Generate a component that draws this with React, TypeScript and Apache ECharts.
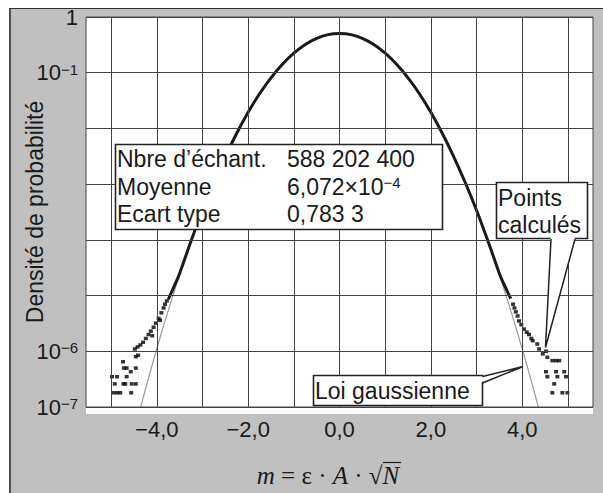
import React, { useEffect, useRef } from 'react';
import * as echarts from 'echarts';

// Gaussian law (grey line)
const gaussX = [-4.5, -4.25, -4, -3.75, -3.5, -3.25, -3, -2.75, -2.5, -2.25, -2, -1.75, -1.5, -1.25, -1, -0.75, -0.5, -0.25, 0, 0.25, 0.5, 0.75, 1, 1.25, 1.5, 1.75, 2, 2.25, 2.5, 2.75, 3, 3.25, 3.5, 3.75, 4, 4.25, 4.5];
const gaussY = [3.5e-8, 2.06e-7, 1.11e-6, 5.37e-6, 2.35e-5, 9.31e-5, 3.33e-4, 1.073e-3, 3.125e-3, 8.23e-3, 0.01955, 0.042, 0.0814, 0.1425, 0.225, 0.322, 0.415, 0.484, 0.505, 0.484, 0.415, 0.322, 0.225, 0.1425, 0.0814, 0.042, 0.01955, 8.23e-3, 3.125e-3, 1.073e-3, 3.33e-4, 9.31e-5, 2.35e-5, 5.37e-6, 1.11e-6, 2.06e-7, 3.5e-8];

// Computed points: dense central part (thick line)
const calcX = [-3.75, -3.6, -3.5, -3.25, -3, -2.75, -2.5, -2.25, -2, -1.75, -1.5, -1.25, -1, -0.75, -0.5, -0.25, 0, 0.25, 0.5, 0.75, 1, 1.25, 1.5, 1.75, 2, 2.25, 2.5, 2.75, 3, 3.25, 3.5, 3.6, 3.75];
const calcY = [8.5e-6, 1.6e-5, 2.5e-5, 9.5e-5, 3.4e-4, 1.08e-3, 3.13e-3, 8.2e-3, 0.0195, 0.042, 0.081, 0.142, 0.224, 0.321, 0.414, 0.483, 0.505, 0.483, 0.414, 0.321, 0.224, 0.142, 0.081, 0.042, 0.0195, 8.2e-3, 3.13e-3, 1.08e-3, 3.4e-4, 9.5e-5, 2.5e-5, 1.6e-5, 8.8e-6];

// Computed points: scattered tails
const leftTailX = [-3.78, -3.82, -3.85, -3.9, -3.96, -4.02, -4.07, -4.13, -4.18, -4.24, -4.3, -4.36, -4.42, -4.48, -3.93, -4.1, -4.46, -4.41, -4.74, -4.72, -4.66, -4.46, -4.57, -4.98, -4.87, -4.66, -4.92, -4.73, -4.69, -4.55, -4.46, -4.95, -4.87, -4.8, -4.56];
const leftTailY = [8.0e-6, 7.0e-6, 6.0e-6, 4.9e-6, 3.9e-6, 3.2e-6, 2.7e-6, 2.3e-6, 2.0e-6, 1.7e-6, 1.45e-6, 1.3e-6, 1.2e-6, 1.1e-6, 3.6e-6, 1.9e-6, 8.0e-7, 8.5e-7, 6.5e-7, 5.0e-7, 5.0e-7, 5.0e-7, 4.3e-7, 3.5e-7, 3.5e-7, 3.5e-7, 2.6e-7, 2.6e-7, 2.6e-7, 2.6e-7, 2.6e-7, 1.8e-7, 1.8e-7, 1.8e-7, 1.8e-7];
const rightTailX = [3.8, 3.83, 3.86, 3.9, 3.93, 3.98, 4.04, 4.1, 4.15, 4.2, 4.23, 4.33, 4.37, 4.52, 4.45, 4.55, 4.66, 4.74, 4.81, 4.52, 4.74, 4.92, 4.55, 4.77, 4.96, 4.7, 4.66, 4.88, 4.99];
const rightTailY = [7.0e-6, 6.0e-6, 5.1e-6, 4.3e-6, 3.5e-6, 3.0e-6, 2.5e-6, 2.2e-6, 2.0e-6, 1.7e-6, 1.55e-6, 1.35e-6, 1.1e-6, 1.0e-6, 9.0e-7, 7.8e-7, 6.8e-7, 6.8e-7, 6.8e-7, 4.3e-7, 4.3e-7, 4.3e-7, 3.5e-7, 3.5e-7, 3.5e-7, 2.6e-7, 1.8e-7, 1.8e-7, 1.8e-7];

// Axes
const xGridValues = [-5, -4, -3, -2, -1, 0, 1, 2, 3, 4, 5];
const xTickLabels = [-4, -2, 0, 2, 4];
const yLabelExponents = [0, -1, -6, -7];

// Annotation texts
const statLabels = ['Nbre d’échant.', 'Moyenne', 'Ecart type'];
const statValues = ['588 202 400', '{a|6,072×10}{s|−4}', '0,783 3'];

const SANS = 'Liberation Sans, Arial, Helvetica, sans-serif';
const SERIF = 'Liberation Serif, Times New Roman, serif';
const INK = '#1a1a1a';
const FRAME = '#c0c0c0';

// layout (px)
const W = 603;
const H = 493;
const PLOT = { left: 86, top: 17, right: 593, bottom: 414 };
const FRAME_L = 9;
const FRAME_T = 8;

function zip(xs: number[], ys: number[]) {
  return xs.map((x, i) => [x, ys[i]]);
}

export default function App() {
  const ref = useRef<HTMLDivElement>(null);
  useEffect(() => {
    if (!ref.current) return;
    const chart = echarts.init(ref.current, null, { renderer: 'svg' });
    const annText = { fontFamily: SANS, fontSize: 23, fill: INK, verticalAlign: 'middle', align: 'left' };
    const rowY = [159, 186.5, 213.5];
    const strip = (x: number, y: number, w: number, h: number) => ({
      type: 'rect', z: 50, silent: true, shape: { x, y, width: w, height: h }, style: { fill: FRAME },
    });
    const graphic: any[] = [
      // grey frame around the plot area
      strip(FRAME_L, FRAME_T, W - FRAME_L, PLOT.top - FRAME_T),
      strip(FRAME_L, PLOT.top, PLOT.left - FRAME_L, PLOT.bottom - PLOT.top),
      strip(PLOT.right, PLOT.top, W - PLOT.right, PLOT.bottom - PLOT.top),
      strip(FRAME_L, PLOT.bottom, W - FRAME_L, H - PLOT.bottom),
      { type: 'line', z: 201, silent: true, shape: { x1: FRAME_L, y1: FRAME_T + 0.5, x2: W, y2: FRAME_T + 0.5 }, style: { stroke: '#333', lineWidth: 1 } },
      { type: 'line', z: 201, silent: true, shape: { x1: FRAME_L + 1, y1: FRAME_T, x2: FRAME_L + 1, y2: H }, style: { stroke: '#333', lineWidth: 1.6 } },
      // statistics box
      { type: 'rect', z: 100, shape: { x: 115.5, y: 144.5, width: 327, height: 85 }, style: { fill: '#fff', stroke: '#222', lineWidth: 1.6 } },
      ...statLabels.map((t, i) => ({ type: 'text', z: 103, x: 117, y: rowY[i], style: { ...annText, text: t } })),
      ...statValues.map((t, i) => ({
        type: 'text', z: 103, x: 287, y: rowY[i],
        style: {
          ...annText, text: t,
          rich: {
            a: { fontFamily: SANS, fontSize: 23, fill: INK },
            s: { fontFamily: SANS, fontSize: 15, fill: INK, verticalAlign: 'top' },
          },
        },
      })),
      // "Points calculés" callout
      { type: 'rect', z: 100, shape: { x: 496.5, y: 182.5, width: 91, height: 56 }, style: { fill: '#fff', stroke: '#222', lineWidth: 1.6 } },
      { type: 'polygon', z: 101, shape: { points: [[550.5, 236], [545.5, 347], [575.5, 236]] }, style: { fill: '#fff' } },
      { type: 'polyline', z: 102, shape: { points: [[551, 239], [545.5, 347.5], [575, 239]] }, style: { stroke: '#222', lineWidth: 1.5, fill: null } },
      { type: 'text', z: 103, x: 498, y: 197.5, style: { ...annText, text: 'Points' } },
      { type: 'text', z: 103, x: 498, y: 224.5, style: { ...annText, text: 'calculés' } },
      // "Loi gaussienne" callout
      { type: 'rect', z: 100, shape: { x: 313.5, y: 375.5, width: 169, height: 30 }, style: { fill: '#fff', stroke: '#222', lineWidth: 1.6 } },
      { type: 'polygon', z: 101, shape: { points: [[480.5, 377], [523, 366.5], [480.5, 382.5]] }, style: { fill: '#fff' } },
      { type: 'polyline', z: 102, shape: { points: [[482.5, 376.5], [523, 366.5], [482.5, 383]] }, style: { stroke: '#222', lineWidth: 1.5, fill: null } },
      { type: 'text', z: 103, x: 315, y: 390.5, style: { ...annText, text: 'Loi gaussienne' } },
      // bar of the square root over N
      { type: 'line', z: 103, shape: { x1: 383, y1: 462.5, x2: 401, y2: 462.5 }, style: { stroke: INK, lineWidth: 1.2 } },
    ];

    chart.setOption({
      animation: false,
      backgroundColor: '#fff',
      grid: {
        left: PLOT.left, top: PLOT.top, right: W - PLOT.right, bottom: H - PLOT.bottom, z: 60,
        show: true, backgroundColor: 'transparent', borderColor: '#444', borderWidth: 1, containLabel: false,
      },
      xAxis: {
        type: 'value', min: -5.55, max: 5.55, z: 60,
        axisLine: { show: false },
        axisTick: { show: false, customValues: xGridValues },
        splitLine: { show: true, lineStyle: { color: '#444', width: 1 } },
        axisLabel: {
          customValues: xTickLabels, margin: 11, fontSize: 22, color: INK, fontFamily: SANS,
          formatter: (v: number) => (v < 0 ? '−' : '') + Math.abs(v).toFixed(1).replace('.', ','),
        },
        name: '{i|m} = ε · {i|A} · √{i|N}',
        nameLocation: 'middle', nameGap: 56, nameMoveOverlap: false,
        nameTextStyle: {
          fontFamily: SERIF, fontSize: 25, color: INK, padding: [0, 23, 0, 0],
          rich: { i: { fontFamily: SERIF, fontSize: 25, fontStyle: 'italic', color: INK } },
        },
      },
      yAxis: {
        type: 'log', logBase: 10, min: 1e-7, max: 1, z: 60,
        axisLine: { show: false }, axisTick: { show: false },
        splitLine: { show: true, lineStyle: { color: '#444', width: 1 } },
        axisLabel: {
          margin: 8, fontSize: 22, color: INK, fontFamily: SANS,
          formatter: (v: number) => {
            const e = Math.round(Math.log10(v));
            if (!yLabelExponents.includes(e)) return '';
            if (e === 0) return '1';
            return `{b|10}{s|−${-e}}`;
          },
          rich: {
            b: { fontSize: 22, fontFamily: SANS, color: INK },
            s: { fontSize: 15, fontFamily: SANS, color: INK, verticalAlign: 'top' },
          },
        },
        name: 'Densité de probabilité', nameLocation: 'middle', nameGap: 40, nameMoveOverlap: false,
        nameTextStyle: { fontFamily: SANS, fontSize: 23, color: INK },
      },
      series: [
        {
          type: 'line', data: zip(gaussX, gaussY), showSymbol: false, smooth: 0.3,
          lineStyle: { color: '#9a9a9a', width: 1.2 }, z: 2, clip: true,
        },
        {
          type: 'line', data: zip(calcX, calcY), showSymbol: false, smooth: 0.3,
          lineStyle: { color: INK, width: 3 }, z: 3, clip: true,
        },
        {
          type: 'scatter', data: zip(leftTailX, leftTailY).concat(zip(rightTailX, rightTailY)),
          symbol: 'rect', symbolSize: [4, 3.5], itemStyle: { color: '#000' }, z: 4,
        },
      ],
      graphic,
    });
    return () => chart.dispose();
  }, []);

  return (
    <div style={{ position: 'absolute', left: 0, top: 0, width: W, height: H, background: '#fff', overflow: 'hidden' }}>
      <div ref={ref} style={{ position: 'absolute', left: 0, top: 0, width: W, height: H }} />
    </div>
  );
}
